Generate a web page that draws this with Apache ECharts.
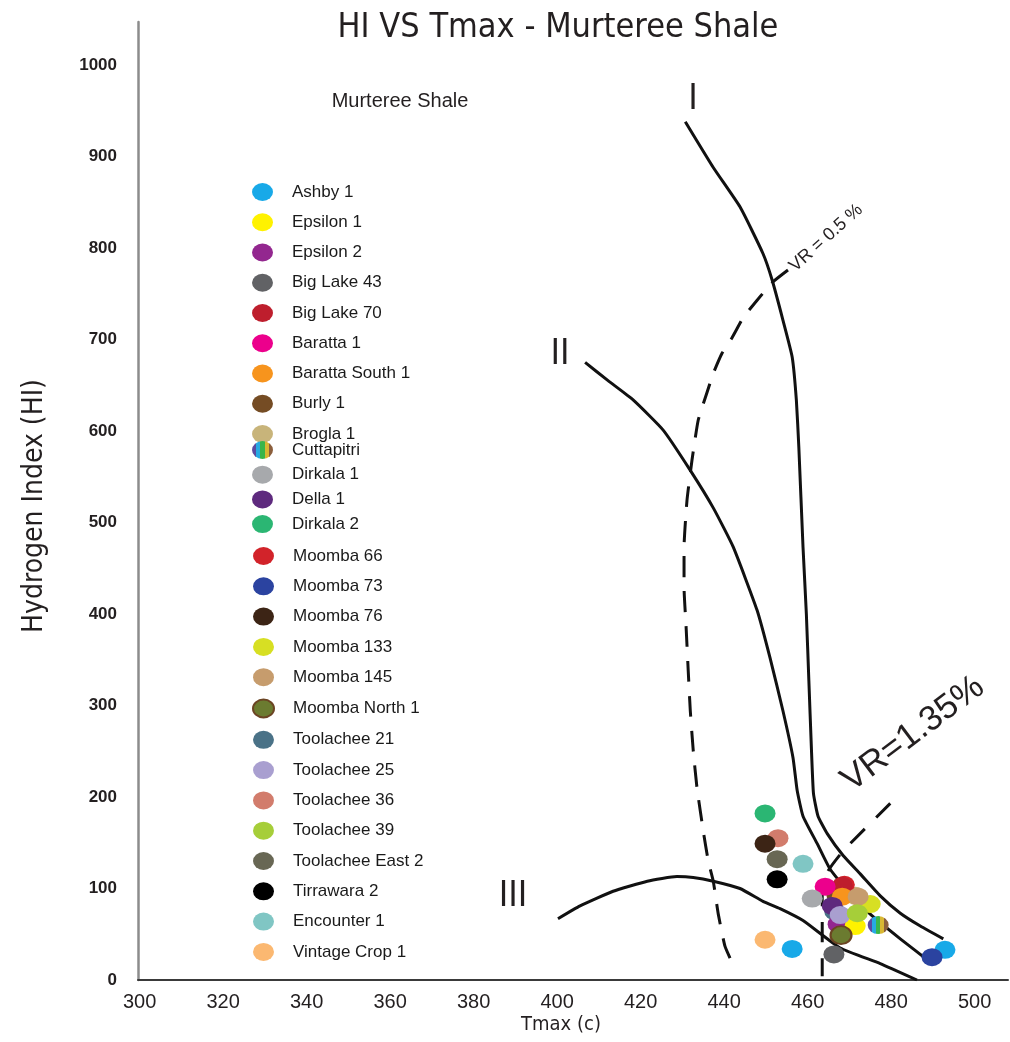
<!DOCTYPE html>
<html>
<head>
<meta charset="utf-8">
<title>HI VS Tmax - Murteree Shale</title>
<script src="https://cdn.jsdelivr.net/npm/echarts@6/dist/echarts.min.js"></script>
<style>
	html, body { margin: 0; padding: 0; background: #fff; }
	#chart { width: 1010px; height: 1042px; }
</style>
</head>
<body>
<div id="chart"></div>
<script>
	//井名（图例顺序）
	var wellNames = ['Ashby 1', 'Epsilon 1', 'Epsilon 2', 'Big Lake 43', 'Big Lake 70', 'Baratta 1', 'Baratta South 1',
		'Burly 1', 'Brogla 1', 'Cuttapitri', 'Dirkala 1', 'Della 1', 'Dirkala 2', 'Moomba 66', 'Moomba 73', 'Moomba 76',
		'Moomba 133', 'Moomba 145', 'Moomba North 1', 'Toolachee 21', 'Toolachee 25', 'Toolachee 36', 'Toolachee 39',
		'Toolachee East 2', 'Tirrawara 2', 'Encounter 1', 'Vintage Crop 1'];

	//每口井的 [Tmax, HI]
	var wellPoints = [
		[[456.3, 34], [492.9, 33]],
		[[471.4, 59]],
		[[467.3, 61]],
		[[466.3, 28]],
		[[468.3, 103]],
		[[464.2, 102]],
		[[468.3, 91]],
		[[467.0, 93]],
		[[471.5, 92]],
		[[476.9, 60]],
		[[461.1, 89]],
		[[465.9, 81]],
		[[449.8, 182]],
		[[468.8, 104]],
		[[489.8, 25]],
		[[449.8, 149]],
		[[475.0, 83]],
		[[472.1, 91]],
		[[468.0, 49]],
		[[466.5, 75]],
		[[467.8, 71]],
		[[452.9, 155]],
		[[471.9, 73]],
		[[452.7, 132]],
		[[452.7, 110]],
		[[458.9, 127]],
		[[449.8, 44]]
	];

	//绘制顺序，后画的在上面
	var drawOrder = ['Burly 1', 'Brogla 1', 'Toolachee 21', 'Moomba 66', 'Big Lake 70', 'Baratta 1', 'Dirkala 1',
		'Baratta South 1', 'Moomba 133', 'Moomba 145', 'Della 1', 'Epsilon 2', 'Epsilon 1', 'Toolachee 25',
		'Toolachee 39', 'Cuttapitri', 'Moomba North 1', 'Big Lake 43', 'Ashby 1', 'Moomba 73', 'Dirkala 2',
		'Toolachee 36', 'Moomba 76', 'Toolachee East 2', 'Encounter 1', 'Tirrawara 2', 'Vintage Crop 1'];

	//干酪根类型曲线 I / II / III
	var curveI = [[430.7, 938], [437.4, 888], [443.8, 845], [449.3, 794], [451.5, 765], [454.1, 721], [456.3, 681],
		[457.3, 634], [457.9, 582], [458.9, 473], [459.7, 400], [460.3, 327], [460.9, 254], [461.4, 204],
		[462.5, 179], [464.7, 160], [468.5, 136], [472.6, 116], [477.4, 92], [482.2, 73], [487.0, 59], [492.5, 45]];
	var curveII = [[406.7, 675], [412.2, 655], [418.2, 634], [425.4, 601], [431.9, 557], [437.4, 516], [442.2, 473],
		[447.9, 404], [451.0, 352], [454.1, 294], [456.5, 243], [457.5, 207], [458.9, 179], [462.3, 149],
		[465.4, 121], [470.2, 94], [475.0, 72], [482.2, 45], [489.8, 18]];
	var curveIII = [[400.2, 67], [405.5, 81], [413.4, 97], [421.6, 108], [428.7, 113], [432.6, 112], [437.4, 108],
		[443.8, 100], [449.3, 86], [453.4, 78], [458.9, 65], [467.8, 35], [477.4, 18], [486.2, 0]];

	//镜质体反射率虚线
	var vr05 = [[455.3, 776], [451.7, 763], [447.9, 743], [444.6, 724], [441.9, 702], [439.5, 685], [437.4, 663],
		[435.9, 642], [433.8, 612], [432.3, 568], [431.1, 524], [430.4, 473], [430.4, 429], [430.9, 385],
		[431.4, 338], [431.9, 294], [432.6, 251], [433.5, 210], [435.0, 163], [436.2, 130], [437.4, 108],
		[438.6, 72], [440.2, 37], [441.9, 19]];
	var vr135 = [[479.8, 193], [468.5, 141], [464.9, 119], [463.5, 92], [463.5, 4]];

	//刻度
	var xTicks = [300, 320, 340, 360, 380, 400, 420, 440, 460, 480, 500];
	var yTicks = [0, 100, 200, 300, 400, 500, 600, 700, 800, 900, 1000];

	var narrowFont = "'Liberation Sans Narrow', 'DejaVu Sans Condensed', sans-serif";
	var plainFont = "'Liberation Sans', Arial, sans-serif";
	var dotPath = 'path://M0,9A10.5,9,0,1,1,21,9A10.5,9,0,1,1,0,9Z';

	//井点颜色
	var wellColors = {
		'Ashby 1': '#18a9e8',
		'Epsilon 1': '#fff200',
		'Epsilon 2': '#93278f',
		'Big Lake 43': '#616265',
		'Big Lake 70': '#be1e2d',
		'Baratta 1': '#ec008c',
		'Baratta South 1': '#f7941d',
		'Burly 1': '#754c24',
		'Brogla 1': '#c8b47a',
		'Cuttapitri': new echarts.graphic.LinearGradient(0, 0, 1, 0, [
			{offset: 0, color: '#5b4aa0'}, {offset: 0.2, color: '#5b4aa0'},
			{offset: 0.2, color: '#27aae1'}, {offset: 0.4, color: '#27aae1'},
			{offset: 0.4, color: '#39b54a'}, {offset: 0.6, color: '#39b54a'},
			{offset: 0.6, color: '#d8b733'}, {offset: 0.8, color: '#d8b733'},
			{offset: 0.8, color: '#8b5e3c'}, {offset: 1, color: '#8b5e3c'}
		]),
		'Dirkala 1': '#a7a9ac',
		'Della 1': '#5e2a7e',
		'Dirkala 2': '#2bb673',
		'Moomba 66': '#d2232a',
		'Moomba 73': '#2b43a0',
		'Moomba 76': '#3c2415',
		'Moomba 133': '#d7df23',
		'Moomba 145': '#c69c6d',
		'Moomba North 1': '#6b7b30',
		'Toolachee 21': '#4a7287',
		'Toolachee 25': '#a99fd0',
		'Toolachee 36': '#d27c6c',
		'Toolachee 39': '#a6ce39',
		'Toolachee East 2': '#686754',
		'Tirrawara 2': '#000000',
		'Encounter 1': '#80c6c4',
		'Vintage Crop 1': '#fbb871'
	};

	//曲线 series
	function lineSeries(name, data, dash) {
		return {
			name: name,
			type: 'line',
			data: data,
			smooth: 0.15,
			symbol: 'none',
			silent: true,
			z: 2,
			lineStyle: {
				color: '#111',
				width: 3,
				type: dash ? dash : 'solid',
				cap: 'butt',
				join: 'round'
			}
		};
	}

	var series = [];
	series.push(lineSeries('curve I', curveI));
	series.push(lineSeries('curve II', curveII));
	series.push(lineSeries('curve III', curveIII));
	series.push(lineSeries('VR 0.5', vr05, [21, 14]));
	series.push(lineSeries('VR 1.35', vr135, [20, 16]));

	//井点 series
	for(var i = 0; i < drawOrder.length; i++) {
		var idx = wellNames.indexOf(drawOrder[i]);
		var style = {
			color: wellColors[drawOrder[i]],
			opacity: 1
		};
		if(drawOrder[i] == 'Moomba North 1') {
			style.borderColor = '#6b4423';
			style.borderWidth = 2;
		}
		series.push({
			name: wellNames[idx],
			type: 'scatter',
			symbol: dotPath,
			symbolSize: [21, 18],
			data: wellPoints[idx],
			itemStyle: style,
			z: 3
		});
	}

	//图例分三段，间距不同
	function legendPart(names, top, gap) {
		return {
			data: names,
			orient: 'vertical',
			left: 252,
			top: top,
			padding: 0,
			itemGap: gap,
			itemWidth: 21,
			itemHeight: 18,
			icon: dotPath,
			textStyle: {
				fontFamily: plainFont,
				fontSize: 17,
				lineHeight: 18,
				color: '#1a1a1a',
				padding: [0, 0, 0, 14]
			}
		};
	}

	//文字
	function textItem(text, x, y, size, family, rot) {
		return {
			type: 'text',
			x: x,
			y: y,
			rotation: rot ? rot : 0,
			silent: true,
			style: {
				text: text,
				fontSize: size,
				fontFamily: family,
				fill: '#231f20',
				align: 'center',
				verticalAlign: 'middle'
			}
		};
	}

	var myChart = echarts.init(document.getElementById('chart'));
	var option = {
		animation: false,
		backgroundColor: '#fff',
		grid: {
			left: 138,
			right: 2,
			top: 22,
			bottom: 62
		},
		xAxis: {
			type: 'value',
			min: 299.6,
			max: 508,
			axisLine: {
				show: true,
				lineStyle: {color: '#3a3a3a', width: 2}
			},
			axisTick: {show: false},
			splitLine: {show: false},
			axisLabel: {
				customValues: xTicks,
				margin: 12,
				fontSize: 20,
				fontFamily: plainFont,
				color: '#231f20',
				formatter: function(v) {
					return String(v);
				}
			}
		},
		yAxis: {
			type: 'value',
			min: 0,
			max: 1047,
			axisLine: {
				show: true,
				lineStyle: {color: '#8c8c8c', width: 2.5}
			},
			axisTick: {show: false},
			splitLine: {show: false},
			axisLabel: {
				customValues: yTicks,
				margin: 21,
				fontSize: 17,
				fontWeight: 'bold',
				fontFamily: plainFont,
				color: '#231f20',
				formatter: function(v) {
					return String(v);
				}
			}
		},
		legend: [
			legendPart(wellNames.slice(0, 9), 183, 12.25),
			legendPart(wellNames.slice(9, 13), 441, 6.7),
			legendPart(wellNames.slice(13), 547, 12.3)
		],
		graphic: [
			textItem('HI VS Tmax - Murteree Shale', 558, 28, 34, narrowFont),
			textItem('Murteree Shale', 400, 101, 20, plainFont),
			textItem('Hydrogen Index (HI)', 35, 506, 28, narrowFont, Math.PI / 2),
			textItem('Tmax (c)', 561, 1025, 20, narrowFont),
			textItem('I', 693, 100, 36, narrowFont),
			textItem('II', 560, 355, 36, narrowFont),
			textItem('III', 513, 897, 36, narrowFont),
			textItem('VR = 0.5 %', 826, 238, 18, plainFont, 42 * Math.PI / 180),
			textItem('VR=1.35%', 913, 734, 35, plainFont, 37 * Math.PI / 180)
		],
		series: series
	};
	myChart.setOption(option);
</script>
</body>
</html>
